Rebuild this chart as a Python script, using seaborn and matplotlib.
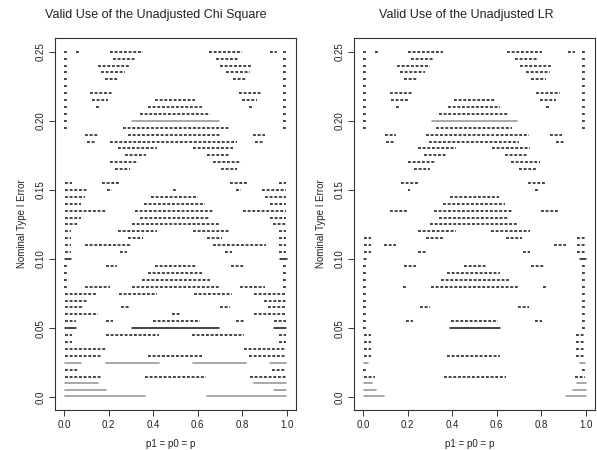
import matplotlib
matplotlib.use("Agg")
import matplotlib.pyplot as plt
import pandas as pd
import seaborn as sns

# ---------------- data: (nominal alpha, first p, last p) ----------------
E0, E1 = 0.008, 0.99  # single marks near the edges

chi_dash = [
    (0.25, E0, E0), (0.25, 0.052, 0.067), (0.25, 0.205, 0.355), (0.25, 0.648, 0.798), (0.25, 0.922, 0.955), (0.25, E1, E1),
    (0.245, E0, E0), (0.245, 0.22, 0.318), (0.245, 0.682, 0.783), (0.245, E1, E1),
    (0.24, E0, E0), (0.24, 0.153, 0.295), (0.24, 0.70, 0.843), (0.24, E1, E1),
    (0.235, E0, E0), (0.235, 0.168, 0.273), (0.235, 0.727, 0.832), (0.235, E1, E1),
    (0.23, E0, E0), (0.23, 0.183, 0.243), (0.23, 0.757, 0.817), (0.23, E1, E1),
    (0.225, E0, E0), (0.225, E1, E1),
    (0.22, E0, E0), (0.22, 0.118, 0.22), (0.22, 0.783, 0.888), (0.22, E1, E1),
    (0.215, E0, E0), (0.215, 0.127, 0.198), (0.215, 0.408, 0.588), (0.215, 0.798, 0.865), (0.215, E1, E1),
    (0.21, E0, E0), (0.21, 0.145, 0.16), (0.21, 0.378, 0.618), (0.21, 0.828, 0.843), (0.21, E1, E1),
    (0.205, E0, E0), (0.205, 0.34, 0.655), (0.205, E1, E1),
    (0.20, E0, E0), (0.20, E1, E1),
    (0.195, E0, E0), (0.195, 0.265, 0.745), (0.195, E1, E1),
    (0.19, 0.093, 0.153), (0.19, 0.288, 0.70), (0.19, 0.846, 0.903),
    (0.185, 0.103, 0.138), (0.185, 0.205, 0.775), (0.185, 0.858, 0.895),
    (0.18, 0.243, 0.415), (0.18, 0.58, 0.757),
    (0.175, 0.273, 0.37), (0.175, 0.64, 0.738),
    (0.17, 0.205, 0.333), (0.17, 0.667, 0.793),
    (0.165, 0.228, 0.295), (0.165, 0.703, 0.775),
    (0.155, 0.003, 0.037), (0.155, 0.172, 0.25), (0.155, 0.745, 0.823), (0.155, 0.963, 0.997),
    (0.15, 0.003, 0.103), (0.15, 0.193, 0.217), (0.15, 0.487, 0.508), (0.15, 0.772, 0.793), (0.15, 0.888, 0.997),
    (0.145, 0.003, 0.093), (0.145, 0.388, 0.603), (0.145, 0.903, 0.997),
    (0.14, 0.003, 0.078), (0.14, 0.358, 0.633), (0.14, 0.922, 0.997),
    (0.135, 0.003, 0.193), (0.135, 0.318, 0.67), (0.135, 0.802, 0.997),
    (0.13, 0.003, 0.078), (0.13, 0.34, 0.655), (0.13, 0.922, 0.997),
    (0.125, 0.003, 0.058), (0.125, 0.303, 0.693), (0.125, 0.937, 0.997),
    (0.12, 0.003, 0.033), (0.12, 0.243, 0.415), (0.12, 0.577, 0.745), (0.12, 0.963, 0.997),
    (0.115, 0.003, 0.033), (0.115, 0.288, 0.355), (0.115, 0.64, 0.708), (0.115, 0.963, 0.997),
    (0.11, 0.003, 0.033), (0.11, 0.093, 0.295), (0.11, 0.67, 0.907), (0.11, 0.963, 0.997),
    (0.105, 0.003, 0.033), (0.105, 0.25, 0.283), (0.105, 0.723, 0.753), (0.105, 0.963, 0.997),
    (0.095, E0, E0), (0.095, 0.187, 0.238), (0.095, 0.408, 0.595), (0.095, 0.748, 0.813), (0.095, E1, E1),
    (0.09, E0, E0), (0.09, 0.378, 0.618), (0.09, E1, E1),
    (0.085, E0, E0), (0.085, 0.352, 0.655), (0.085, E1, E1),
    (0.08, E0, E0), (0.08, 0.093, 0.205), (0.08, 0.307, 0.693), (0.08, 0.79, 0.903), (0.08, E1, E1),
    (0.075, 0.003, 0.145), (0.075, 0.247, 0.415), (0.075, 0.583, 0.753), (0.075, 0.853, 0.997),
    (0.07, 0.003, 0.108), (0.07, 0.895, 0.997),
    (0.065, 0.003, 0.082), (0.065, 0.258, 0.298), (0.065, 0.70, 0.742), (0.065, 0.915, 0.997),
    (0.06, 0.003, 0.153), (0.06, 0.483, 0.52), (0.06, 0.85, 0.997),
    (0.055, 0.003, 0.055), (0.055, 0.19, 0.22), (0.055, 0.40, 0.61), (0.055, 0.772, 0.805), (0.055, 0.94, 0.997),
    (0.045, 0.003, 0.037), (0.045, 0.187, 0.427), (0.045, 0.573, 0.805), (0.045, 0.963, 0.997),
    (0.04, 0.003, 0.037), (0.04, 0.963, 0.997),
    (0.035, 0.003, 0.193), (0.035, 0.805, 0.997),
    (0.03, 0.003, 0.172), (0.03, 0.378, 0.618), (0.03, 0.828, 0.997),
    (0.02, 0.003, 0.067), (0.02, 0.933, 0.997),
    (0.015, 0.003, 0.172), (0.015, 0.363, 0.637), (0.015, 0.835, 0.997),
]
chi_black = [
    (0.10, 0.003, 0.033), (0.10, 0.967, 1.0),
    (0.05, 0.003, 0.055), (0.05, 0.307, 0.697), (0.05, 0.94, 0.997),
]
chi_gray = [
    (0.20, 0.307, 0.693),
    (0.025, 0.003, 0.078), (0.025, 0.187, 0.427), (0.025, 0.577, 0.817), (0.025, 0.922, 0.997),
    (0.01, 0.003, 0.153), (0.01, 0.85, 0.997),
    (0.005, 0.003, 0.187), (0.005, 0.94, 0.997),
    (0.001, 0.003, 0.363), (0.001, 0.643, 0.997),
]

lr_dash = [
    (0.25, E0, E0), (0.25, 0.052, 0.072), (0.25, 0.202, 0.359), (0.25, 0.646, 0.803), (0.25, 0.919, 0.949), (0.25, E1, E1),
    (0.245, E0, E0), (0.245, 0.217, 0.317), (0.245, 0.68, 0.78), (0.245, E1, E1),
    (0.24, E0, E0), (0.24, 0.152, 0.299), (0.24, 0.706, 0.848), (0.24, E1, E1),
    (0.235, E0, E0), (0.235, 0.167, 0.277), (0.235, 0.729, 0.837), (0.235, E1, E1),
    (0.23, E0, E0), (0.23, 0.182, 0.242), (0.23, 0.755, 0.819), (0.23, E1, E1),
    (0.225, E0, E0), (0.225, E1, E1),
    (0.22, E0, E0), (0.22, 0.12, 0.224), (0.22, 0.777, 0.885), (0.22, E1, E1),
    (0.215, E0, E0), (0.215, 0.127, 0.202), (0.215, 0.407, 0.59), (0.215, 0.795, 0.864), (0.215, E1, E1),
    (0.21, E0, E0), (0.21, 0.146, 0.161), (0.21, 0.381, 0.616), (0.21, 0.822, 0.84), (0.21, E1, E1),
    (0.205, E0, E0), (0.205, 0.341, 0.655), (0.205, E1, E1),
    (0.20, E0, E0), (0.20, E1, E1),
    (0.195, E0, E0), (0.195, 0.326, 0.67), (0.195, E1, E1),
    (0.19, 0.097, 0.149), (0.19, 0.284, 0.744), (0.19, 0.84, 0.894),
    (0.185, 0.105, 0.138), (0.185, 0.296, 0.70), (0.185, 0.864, 0.90),
    (0.18, 0.247, 0.419), (0.18, 0.58, 0.75),
    (0.175, 0.272, 0.374), (0.175, 0.635, 0.735),
    (0.17, 0.202, 0.329), (0.17, 0.665, 0.792),
    (0.165, 0.227, 0.299), (0.165, 0.70, 0.774),
    (0.155, 0.172, 0.251), (0.155, 0.74, 0.822),
    (0.15, 0.202, 0.212), (0.15, 0.77, 0.785),
    (0.145, 0.389, 0.61),
    (0.14, 0.359, 0.635),
    (0.135, 0.12, 0.197), (0.135, 0.317, 0.673), (0.135, 0.80, 0.879),
    (0.13, 0.341, 0.655),
    (0.125, 0.302, 0.695),
    (0.12, 0.247, 0.419), (0.12, 0.575, 0.747),
    (0.115, 0.003, 0.037), (0.115, 0.284, 0.362), (0.115, 0.64, 0.714), (0.115, 0.96, 0.994),
    (0.11, 0.003, 0.037), (0.11, 0.093, 0.149), (0.11, 0.855, 0.912), (0.11, 0.96, 0.994),
    (0.105, 0.003, 0.037), (0.105, 0.247, 0.284), (0.105, 0.717, 0.75), (0.105, 0.96, 0.994),
    (0.095, E0, E0), (0.095, 0.182, 0.239), (0.095, 0.451, 0.55), (0.095, 0.755, 0.815), (0.095, E1, E1),
    (0.09, E0, E0), (0.09, 0.377, 0.616), (0.09, E1, E1),
    (0.085, E0, E0), (0.085, 0.351, 0.655), (0.085, E1, E1),
    (0.08, E0, E0), (0.08, 0.187, 0.187), (0.08, 0.306, 0.695), (0.08, 0.815, 0.815), (0.08, E1, E1),
    (0.075, E0, E0), (0.075, E1, E1),
    (0.07, E0, E0), (0.07, E1, E1),
    (0.065, E0, E0), (0.065, 0.254, 0.302), (0.065, 0.695, 0.744), (0.065, E1, E1),
    (0.06, E0, E0), (0.06, E1, E1),
    (0.055, E0, E0), (0.055, 0.194, 0.224), (0.055, 0.396, 0.605), (0.055, 0.77, 0.804), (0.055, E1, E1),
    (0.05, E0, E0), (0.05, E1, E1),
    (0.045, 0.003, 0.037), (0.045, 0.957, 0.994),
    (0.04, 0.003, 0.037), (0.04, 0.957, 0.994),
    (0.035, 0.003, 0.037), (0.035, 0.957, 0.994),
    (0.03, 0.003, 0.037), (0.03, 0.377, 0.616), (0.03, 0.957, 0.994),
    (0.02, E0, E0), (0.02, E1, E1),
    (0.015, 0.003, 0.052), (0.015, 0.362, 0.64), (0.015, 0.949, 0.994),
]
lr_black = [
    (0.10, 0.003, 0.015), (0.10, 0.972, 0.998),
    (0.05, 0.389, 0.613),
]
lr_gray = [
    (0.20, 0.311, 0.69),
    (0.025, 0.003, 0.022), (0.025, 0.972, 0.994),
    (0.01, 0.003, 0.042), (0.01, 0.96, 0.998),
    (0.005, 0.003, 0.057), (0.005, 0.942, 0.998),
    (0.001, 0.003, 0.093), (0.001, 0.909, 0.998),
]

titles = ["Valid Use of the Unadjusted Chi Square", "Valid Use of the Unadjusted LR"]
x_label = "p1 = p0 = p"
y_label = "Nominal Type I Error"
x_ticks = [0.0, 0.2, 0.4, 0.6, 0.8, 1.0]
x_ticklabels = ["0.0", "0.2", "0.4", "0.6", "0.8", "1.0"]
y_ticks = [0.0, 0.05, 0.10, 0.15, 0.20, 0.25]
y_ticklabels = ["0.0", "0.05", "0.10", "0.15", "0.20", "0.25"]


def seg_frame(segs, pad=0.0065):
    rows = []
    for i, (a, s, e) in enumerate(segs):
        if s == e:
            s, e = s - pad, e + pad
        rows.append({"seg": i, "alpha": a, "p": s})
        rows.append({"seg": i, "alpha": a, "p": e})
    return pd.DataFrame(rows)


sns.set_style("white")
plt.rcParams["font.family"] = ["Liberation Sans", "DejaVu Sans"]

fig = plt.figure(figsize=(5.97, 4.5), dpi=100)
W, H = 597, 450
ax_w, ax_h = 241 / W, 372 / H
bottom = 1 - 410 / H
axes = [fig.add_axes([55 / W, bottom, ax_w, ax_h]),
        fig.add_axes([354 / W, bottom, ax_w, ax_h])]

panels = [(chi_dash, chi_black, chi_gray), (lr_dash, lr_black, lr_gray)]
title_x = [156, 466]
for k, (ax, (dash, black, gray)) in enumerate(zip(axes, panels)):
    sns.lineplot(data=seg_frame(dash), x="p", y="alpha", units="seg", estimator=None,
                 sort=False, color="#111111", lw=1.1, linestyle=(0, (1.9, 1.15)),
                 ax=ax, legend=False)
    sns.lineplot(data=seg_frame(black), x="p", y="alpha", units="seg", estimator=None,
                 sort=False, color="#111111", lw=1.1, ax=ax, legend=False)
    sns.lineplot(data=seg_frame(gray), x="p", y="alpha", units="seg", estimator=None,
                 sort=False, color="#9a9a9a", lw=1.2, ax=ax, legend=False)
    ax.set_xlim(-0.04, 1.04)
    ax.set_ylim(-0.0092, 0.2599)
    ax.set_xticks(x_ticks)
    ax.set_xticklabels(x_ticklabels, fontsize=7, color="#222222")
    ax.set_yticks(y_ticks)
    ax.set_yticklabels(y_ticklabels, fontsize=7, color="#222222", rotation=90, va="center")
    ax.tick_params(direction="out", length=4, width=0.7, color="#333333", pad=3,
                   left=True, bottom=True)
    for sp in ax.spines.values():
        sp.set_visible(True)
        sp.set_color("#333333")
        sp.set_linewidth(0.8)
    ax.set_xlabel("")
    ax.set_ylabel("")
    x0 = 55 if k == 0 else 354
    fig.text(title_x[k] / W, 1 - 15 / H, titles[k], ha="center", va="center",
             fontsize=9, color="#222222")
    fig.text((x0 + 116) / W, 1 - 444 / H, x_label, ha="center", va="center",
             fontsize=7, color="#222222")
    fig.text((x0 - 33) / W, 1 - 224 / H, y_label, ha="center", va="center",
             rotation=90, fontsize=7, color="#222222")

fig.savefig("out.png", dpi=100)
